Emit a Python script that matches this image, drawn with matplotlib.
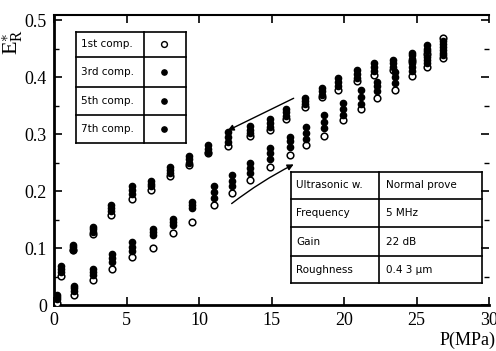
import numpy as np
import matplotlib.pyplot as plt
from matplotlib.lines import Line2D

plt.rcParams['mathtext.fontset'] = 'custom'
plt.rcParams['mathtext.rm'] = 'Liberation Serif'
plt.rcParams['mathtext.it'] = 'Liberation Serif:italic'

# loading branch (pressure increasing)
p_load = [0.2, 1.4, 2.7, 4.0, 5.4, 6.8, 8.2, 9.5, 11.0, 12.3, 13.5, 14.9,
          16.3, 17.4, 18.6, 19.9, 21.2, 22.3, 23.5, 24.7, 25.7, 26.8]
load_1st = [0.004, 0.017, 0.044, 0.064, 0.084, 0.100, 0.127, 0.146, 0.175, 0.197, 0.219, 0.242,
            0.264, 0.280, 0.296, 0.324, 0.344, 0.364, 0.377, 0.402, 0.418, 0.433]
load_3rd = [0.010, 0.025, 0.052, 0.075, 0.095, 0.122, 0.140, 0.170, 0.188, 0.208, 0.232, 0.256,
            0.278, 0.291, 0.310, 0.334, 0.352, 0.375, 0.390, 0.410, 0.424, 0.438]
load_5th = [0.014, 0.030, 0.058, 0.082, 0.102, 0.128, 0.146, 0.175, 0.198, 0.218, 0.241, 0.266,
            0.287, 0.302, 0.322, 0.344, 0.365, 0.384, 0.400, 0.418, 0.430, 0.442]
load_7th = [0.018, 0.034, 0.064, 0.089, 0.110, 0.134, 0.151, 0.180, 0.208, 0.228, 0.250, 0.276,
            0.295, 0.313, 0.333, 0.354, 0.377, 0.392, 0.409, 0.424, 0.436, 0.447]

# unloading branch (pressure decreasing)
p_unload = [26.8, 25.7, 24.7, 23.4, 22.1, 20.9, 19.6, 18.5, 17.3, 16.0, 14.9,
            13.5, 12.0, 10.6, 9.3, 8.0, 6.7, 5.4, 3.9, 2.7, 1.3, 0.5]
unload_1st = [0.468, 0.440, 0.428, 0.412, 0.404, 0.393, 0.378, 0.365, 0.347, 0.326, 0.307,
              0.297, 0.279, 0.266, 0.246, 0.226, 0.202, 0.186, 0.158, 0.125, 0.096, 0.051]
unload_3rd = [0.452, 0.445, 0.432, 0.418, 0.410, 0.398, 0.385, 0.369, 0.352, 0.332, 0.313,
              0.302, 0.286, 0.268, 0.250, 0.232, 0.208, 0.194, 0.165, 0.128, 0.097, 0.058]
unload_5th = [0.458, 0.450, 0.438, 0.424, 0.417, 0.405, 0.391, 0.375, 0.358, 0.338, 0.320,
              0.308, 0.294, 0.274, 0.256, 0.237, 0.213, 0.201, 0.170, 0.133, 0.101, 0.063]
unload_7th = [0.463, 0.456, 0.443, 0.430, 0.424, 0.412, 0.398, 0.380, 0.364, 0.344, 0.327,
              0.315, 0.303, 0.280, 0.262, 0.242, 0.218, 0.209, 0.175, 0.137, 0.105, 0.068]

comp_names = ['1st comp.', '3rd comp.', '5th comp.', '7th comp.']
cond_names = ['Ultrasonic w.', 'Frequency', 'Gain', 'Roughness']
cond_values = ['Normal prove', '5 MHz', '22 dB', '0.4 3 \u03bcm']

W, H = 496, 351
fig = plt.figure(figsize=(W / 100, H / 100), dpi=100)
ax = fig.add_axes([54 / W, 1 - 305 / H, 435 / W, 290 / H])

def fx(x):
    return x / W

def fy(y):
    return 1 - y / H

ms = 4.8
for p, e in [(p_load, load_1st), (p_unload, unload_1st)]:
    ax.plot(p, e, 'o', ls='none', mfc='white', mec='black', mew=1.1, ms=ms, zorder=3)
for series in [(load_3rd, unload_3rd), (load_5th, unload_5th), (load_7th, unload_7th)]:
    ax.plot(p_load, series[0], 'o', ls='none', color='black', ms=ms - 0.3, zorder=4)
    ax.plot(p_unload, series[1], 'o', ls='none', color='black', ms=ms - 0.3, zorder=4)

# arrows showing loading direction
ax.annotate('', xy=(11.8, 0.304), xytext=(16.7, 0.365),
            arrowprops=dict(arrowstyle='-|>', color='black', lw=1.0, mutation_scale=9))
ax.annotate('', xy=(16.7, 0.249), xytext=(12.1, 0.175),
            arrowprops=dict(arrowstyle='-|>', color='black', lw=1.0, mutation_scale=9,
                            connectionstyle='arc3,rad=-0.05'))

ax.set_xlim(0, 30)
ax.set_ylim(0, 0.509)
ax.set_xticks([0, 5, 10, 15, 20, 25, 30])
ax.set_yticks([0, 0.1, 0.2, 0.3, 0.4, 0.5])
ax.set_yticklabels(['0', '0.1', '0.2', '0.3', '0.4', '0.5'])
ax.set_yticks([0.05, 0.15, 0.25, 0.35, 0.45], minor=True)
ax.tick_params(which='major', direction='in', length=6, width=1.2, top=True, right=True,
               labelsize=13, pad=5)
ax.tick_params(which='minor', direction='in', length=3.5, width=1.0, right=True)
for lab in ax.get_xticklabels() + ax.get_yticklabels():
    lab.set_fontfamily('Liberation Serif')
ax.spines['left'].set_linewidth(2)
ax.spines['bottom'].set_linewidth(2)
ax.spines['top'].set_linewidth(1.5)
ax.spines['right'].set_visible(False)

fig.text(fx(496), fy(340), 'P(MPa)', ha='right', va='center', fontsize=13,
         family='Liberation Serif')
fig.text(fx(13), fy(42), r'$\mathrm{E_R^{\ast}}$', rotation=90, ha='center', va='center',
         fontsize=16)

def line(x0, y0, x1, y1, lw=1.2):
    fig.add_artist(Line2D([fx(x0), fx(x1)], [fy(y0), fy(y1)], color='black', lw=lw))

# legend table
lx0, lx1, lxm = 76, 186, 144
lrows = [31.7, 57, 87, 115, 143]
for y in lrows:
    line(lx0, y, lx1, y)
for x in (lx0, lxm, lx1):
    line(x, lrows[0], x, lrows[-1])
for i, name in enumerate(comp_names):
    yc = (lrows[i] + lrows[i + 1]) / 2
    fig.text(fx(81), fy(yc), name, ha='left', va='center', fontsize=7.5, family='DejaVu Sans')
    if i == 0:
        fig.add_artist(Line2D([fx(164)], [fy(yc)], marker='o', mfc='white', mec='black',
                              mew=1.0, ms=4.2))
    else:
        fig.add_artist(Line2D([fx(164)], [fy(yc)], marker='o', color='black', ms=3.8))

# test condition table
tx0, tx1, txm = 291, 482, 379
trows = [171.7, 199.3, 227.3, 256, 283.3]
for y in trows:
    line(tx0, y, tx1, y)
for x in (tx0, txm, tx1):
    line(x, trows[0], x, trows[-1])
for i in range(4):
    yc = (trows[i] + trows[i + 1]) / 2
    fig.text(fx(296), fy(yc), cond_names[i], ha='left', va='center', fontsize=7.5,
             family='DejaVu Sans')
    fig.text(fx(386), fy(yc), cond_values[i], ha='left', va='center', fontsize=7.5,
             family='DejaVu Sans')

fig.savefig('out.png', dpi=100)
